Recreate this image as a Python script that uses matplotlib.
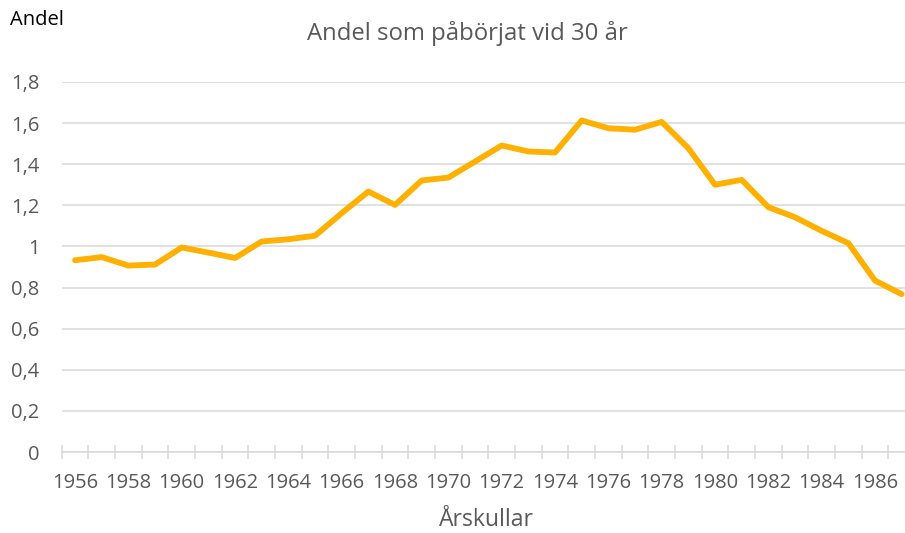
import numpy as np
import matplotlib
matplotlib.use('Agg')
import matplotlib.pyplot as plt
from matplotlib.ticker import MultipleLocator, FixedLocator, FuncFormatter

plt.rcParams['font.family'] = ['Open Sans', 'DejaVu Sans']

# Data
years = list(range(1956, 1988))
andel = [0.933, 0.948, 0.907, 0.912, 0.995, 0.970, 0.944, 1.024, 1.035, 1.052,
         1.162, 1.267, 1.202, 1.321, 1.335, 1.413, 1.491, 1.462, 1.457, 1.613,
         1.575, 1.568, 1.606, 1.478, 1.300, 1.324, 1.191, 1.142, 1.076, 1.016,
         0.834, 0.768]
title = 'Andel som påbörjat vid 30 år'

grey = '#595959'
grid_c = '#d9d9d9'

fig = plt.figure(figsize=(9.05, 5.33), dpi=100)
ax = fig.add_axes([61.7 / 905, (533 - 452) / 533, (915 - 61.7) / 905, (452 - 82) / 533])

x = np.arange(len(years))
ax.plot(x, andel, color='#FFB000', lw=4.2, solid_capstyle='round', solid_joinstyle='round', zorder=3)

ax.set_xlim(-0.5, len(years) - 0.5)
ax.set_ylim(0, 1.8)
ax.yaxis.set_major_locator(MultipleLocator(0.2))
ax.yaxis.set_major_formatter(FuncFormatter(lambda v, p: ('%.1f' % v).rstrip('0').rstrip('.').replace('.', ',') if v != 0 else '0'))
ax.grid(axis='y', color=grid_c, lw=1.1)
ax.set_axisbelow(True)

# category boundaries as major ticks, labels on every other category center
ax.xaxis.set_major_locator(FixedLocator(np.arange(-0.5, len(years) + 0.5, 1)))
ax.xaxis.set_major_formatter(FuncFormatter(lambda v, p: ''))
ax.xaxis.set_minor_locator(FixedLocator(x[::2]))
ax.xaxis.set_minor_formatter(FuncFormatter(lambda v, p: str(years[int(round(v))])))
ax.tick_params(axis='x', which='major', direction='inout', length=10, width=1.1, color=grid_c)
ax.tick_params(axis='x', which='minor', length=0, pad=15, labelsize=14.5, labelcolor=grey)
ax.tick_params(axis='y', length=0, pad=16, labelsize=14.5, labelcolor=grey)

for s in ['top', 'right', 'left']:
    ax.spines[s].set_visible(False)
ax.spines['bottom'].set_color(grid_c)
ax.spines['bottom'].set_linewidth(1.1)

fig.text(467 / 905, 1 - 34 / 533, title, ha='center', va='center', fontsize=17.2, color=grey)
fig.text(10 / 905, 1 - 20 / 533, 'Andel', ha='left', va='center', fontsize=14.5, color='black')
fig.text(486 / 905, 1 - 520 / 533, 'Årskullar', ha='center', va='center', fontsize=16.6, color=grey)

fig.savefig('out.png', dpi=100)
